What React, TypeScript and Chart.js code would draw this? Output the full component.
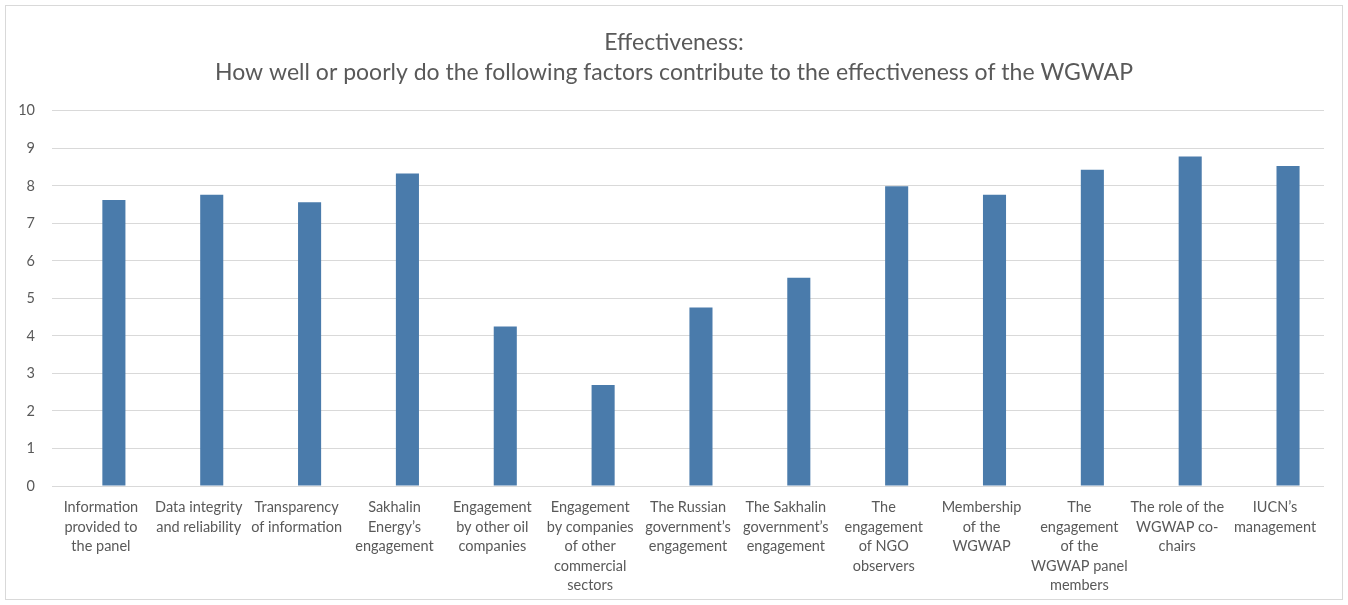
import React, { useEffect, useRef } from "react";
import { Chart, registerables } from "chart.js";

Chart.register(...registerables);

const titleLines = [
  "Effectiveness:",
  "How well or poorly do the following factors contribute to the effectiveness of the WGWAP",
];

const categories: string[][] = [
  ["Information", "provided to", "the panel"],
  ["Data integrity", "and reliability"],
  ["Transparency", "of information"],
  ["Sakhalin", "Energy\u2019s", "engagement"],
  ["Engagement", "by other oil", "companies"],
  ["Engagement", "by companies", "of other", "commercial", "sectors"],
  ["The Russian", "government\u2019s", "engagement"],
  ["The Sakhalin", "government\u2019s", "engagement"],
  ["The", "engagement", "of NGO", "observers"],
  ["Membership", "of the", "WGWAP"],
  ["The", "engagement", "of the", "WGWAP panel", "members"],
  ["The role of the", "WGWAP co-", "chairs"],
  ["IUCN\u2019s", "management"],
];

const scores = [7.62, 7.76, 7.56, 8.33, 4.25, 2.69, 4.76, 5.55, 7.99, 7.76, 8.43, 8.78, 8.53];

// Excel layout places the visible series in the right half of each category
const emptySeries = categories.map(() => null);

const yTicks = [0, 1, 2, 3, 4, 5, 6, 7, 8, 9, 10];

const FONT = "Lato, 'Open Sans', sans-serif";
const TEXT = "#595959";

export default function App() {
  const ref = useRef<HTMLCanvasElement | null>(null);

  useEffect(() => {
    document.body.style.margin = "0";
    const ctx = ref.current!.getContext("2d")!;
    const chart = new Chart(ctx, {
      type: "bar",
      data: {
        labels: categories,
        datasets: [
          {
            label: "placeholder",
            data: emptySeries,
            backgroundColor: "#4a7bab",
            categoryPercentage: 0.53,
            barPercentage: 0.89,
          },
          {
            label: "Effectiveness",
            data: scores,
            backgroundColor: "#4a7bab",
            categoryPercentage: 0.53,
            barPercentage: 0.89,
          },
        ],
      },
      options: {
        animation: false,
        responsive: false,
        maintainAspectRatio: false,
        layout: { padding: 0 },
        plugins: {
          legend: { display: false },
          tooltip: { enabled: false },
          title: {
            display: true,
            text: titleLines,
            color: TEXT,
            font: { family: FONT, size: 23, weight: "normal", lineHeight: 1.3 },
            padding: { top: 22, bottom: 23 },
          },
        },
        scales: {
          x: {
            grid: { display: false, drawTicks: false },
            border: { display: false },
            ticks: {
              color: TEXT,
              font: { family: FONT, size: 14.5, lineHeight: 1.34 },
              maxRotation: 0,
              minRotation: 0,
              autoSkip: false,
              padding: 12,
            },
            afterFit: (s: any) => {
              s.height = 113;
            },
          },
          y: {
            min: 0,
            max: 10,
            afterBuildTicks: (s: any) => {
              s.ticks = yTicks.map((v) => ({ value: v }));
            },
            grid: { color: "#d9d9d9", lineWidth: 1, drawTicks: false },
            border: { display: false },
            ticks: {
              color: TEXT,
              font: { family: FONT, size: 14.5 },
              padding: 17,
            },
            afterFit: (s: any) => {
              s.width = 46;
            },
          },
          spacer: {
            type: "linear",
            position: "right",
            display: true,
            grid: { display: false, drawTicks: false },
            border: { display: false },
            ticks: { display: false },
            afterFit: (s: any) => {
              s.width = 18;
            },
          },
        },
      },
    });
    return () => chart.destroy();
  }, []);

  return (
    <div style={{ position: "relative", width: 1348, height: 605, background: "#fff" }}>
      <div
        style={{
          position: "absolute",
          left: 5,
          top: 5,
          width: 1336,
          height: 593,
          border: "1px solid #d9d9d9",
        }}
      >
        <canvas ref={ref} width={1336} height={593} style={{ display: "block" }} />
      </div>
    </div>
  );
}
